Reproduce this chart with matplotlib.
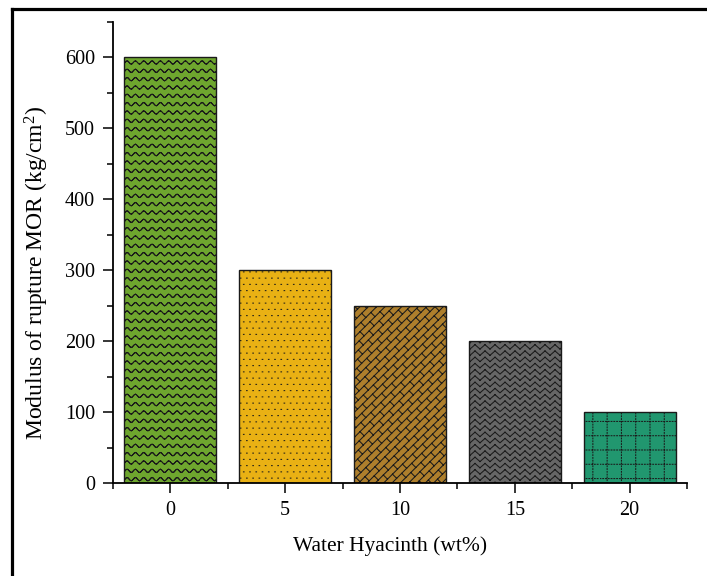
import numpy as np
import matplotlib
matplotlib.use('Agg')
import matplotlib.pyplot as plt
from matplotlib import hatch as mhatch
from matplotlib.path import Path
from matplotlib.lines import Line2D
from matplotlib.ticker import MultipleLocator, FixedLocator

hyacinth = [0, 5, 10, 15, 20]
mor = [600, 300, 250, 200, 100]
bar_colors = ['#6EA62E', '#E9B114', '#AE7F2C', '#666666', '#21976F']
bar_hatches = ['w', 'd', 'b', 'h', 'g']


# custom fill textures, built as line segments inside the unit hatch tile
def wave_segs():
    segs = []
    x = np.linspace(0, 1, 12 * 8 + 1)
    for k in range(12):
        y = (k + 0.5) / 12 + 0.016 * np.sin(2 * np.pi * 12 * x)
        for i in range(len(x) - 1):
            segs.append([[x[i], y[i]], [x[i + 1], y[i + 1]]])
    return segs


def dot_segs():
    segs = []
    n = 16
    for r in range(n):
        off = 0.5 / n if r % 2 else 0
        y = (r + 0.5) / n
        for c in range(-1, n + 1):
            x = c / n + off
            segs.append([[x - 0.003, y], [x + 0.003, y]])
    return segs


def brick_segs():
    segs = []
    n, L = 12, 0.1
    for k in range(-2 * n, 2 * n):
        c = k / n
        segs.append([[-1, -1 + c], [2, 2 + c]])
    h = 0.5 / n
    for k in range(-2 * n, 2 * n):
        c2 = (k + 1) / n
        for j in range(-40, 40):
            t = j * L - k * h + (k % 2) * L / 2
            p0, p1 = [t, t + c2], [t + h, t + c2 - h]
            if -0.1 < p0[0] < 1.1 and -0.1 < p0[1] < 1.1:
                segs.append([p0, p1])
    return segs


def herring_segs():
    segs = []
    rows, per, a = 16, 10, 0.022
    p = 1 / per
    for k in range(rows):
        y0 = (k + 0.5) / rows
        for j in range(per):
            x0 = j * p
            segs.append([[x0, y0 - a], [x0 + p / 2, y0 + a]])
            segs.append([[x0 + p / 2, y0 + a], [x0 + p, y0 - a]])
    return segs


def grid_segs():
    segs = []
    m = 7
    for k in range(m):
        g = k / m + 0.5 / m
        for d in np.arange(36) / 36:
            segs.append([[d, g], [d + 0.008, g]])
            segs.append([[g, d], [g, d + 0.008]])
    return segs


def make_hatch(key, builder):
    class SegHatch(mhatch.HatchPatternBase):
        def __init__(self, hatch, density):
            self.segs = np.array(builder()) if key in hatch else np.zeros((0, 2, 2))
            self.num_vertices = len(self.segs) * 2

        def set_vertices_and_codes(self, vertices, codes):
            vertices[:] = self.segs.reshape(-1, 2)
            codes[0::2] = Path.MOVETO
            codes[1::2] = Path.LINETO
    return SegHatch


for key, fn in [('w', wave_segs), ('d', dot_segs), ('b', brick_segs),
                ('h', herring_segs), ('g', grid_segs)]:
    mhatch._hatch_types.append(make_hatch(key, fn))
mhatch._validate_hatch_pattern = lambda hatch: None

plt.rcParams['font.family'] = ['Liberation Serif', 'DejaVu Serif']
plt.rcParams['mathtext.default'] = 'regular'
plt.rcParams['hatch.linewidth'] = 0.75

fig = plt.figure(figsize=(7.07, 5.76), dpi=100)
ax = fig.add_axes([0.1598, 0.1615, 0.8119, 0.8003])

bars = ax.bar(hyacinth, mor, width=4, color=bar_colors, edgecolor='#1a1a1a', linewidth=1)
for b, h in zip(bars, bar_hatches):
    b.set_hatch(h)

ax.set_xlim(-2.5, 22.5)
ax.set_ylim(0, 650)
ax.set_xticks(hyacinth)
ax.xaxis.set_minor_locator(FixedLocator(np.arange(-2.5, 23, 5)))
ax.yaxis.set_major_locator(MultipleLocator(100))
ax.yaxis.set_minor_locator(MultipleLocator(50))
ax.tick_params(which='major', direction='out', length=7, width=1.1, labelsize=14.5, pad=6)
ax.tick_params(which='minor', direction='out', length=4, width=1.1)
for s in ['top', 'right']:
    ax.spines[s].set_visible(False)
for s in ['left', 'bottom']:
    ax.spines[s].set_linewidth(1.3)

ax.set_xlabel('Water Hyacinth (wt%)', fontsize=15.5)
ax.xaxis.set_label_coords(0.483, -0.115)
ax.set_ylabel('Modulus of rupture MOR (kg/cm$^{2}$)', fontsize=17)
ax.yaxis.set_label_coords(-0.108, 0.455)

# outer frame (top and left edges only show)
x0, y0 = 11.5 / 707, 1 - 8.5 / 576
fig.add_artist(Line2D([x0, x0], [-0.1, y0], color='black', lw=2.3))
fig.add_artist(Line2D([x0, 1.1], [y0, y0], color='black', lw=2.3))

fig.savefig('out.png', dpi=100)
